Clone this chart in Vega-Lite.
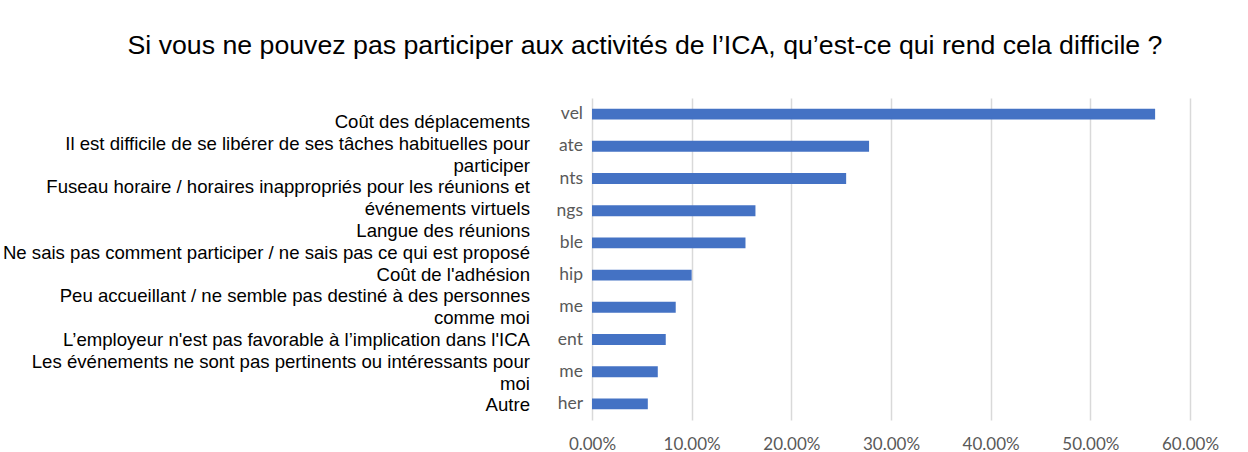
{
  "$schema": "https://vega.github.io/schema/vega-lite/v6.json",
  "width": 598,
  "height": 322,
  "autosize": {"type": "none"},
  "padding": {"left": 592, "top": 98, "right": 58, "bottom": 32},
  "background": "white",
  "title": {
    "text": "Si vous ne pouvez pas participer aux activités de l’ICA, qu’est-ce qui rend cela difficile ?",
    "font": "Liberation Sans",
    "fontSize": 26.7,
    "fontWeight": "normal",
    "color": "#000000",
    "anchor": "middle",
    "frame": "group",
    "dx": -246,
    "baseline": "alphabetic",
    "offset": 17
  },
  "datasets": {
    "raisons": [
      {"raison": "Coût des déplacements", "etiquette": "vel", "pct": 0.565},
      {"raison": "Il est difficile de se libérer de ses tâches habituelles pour participer", "etiquette": "ate", "pct": 0.278},
      {"raison": "Fuseau horaire / horaires inappropriés pour les réunions et événements virtuels", "etiquette": "nts", "pct": 0.255},
      {"raison": "Langue des réunions", "etiquette": "ngs", "pct": 0.164},
      {"raison": "Ne sais pas comment participer / ne sais pas ce qui est proposé", "etiquette": "ble", "pct": 0.154},
      {"raison": "Coût de l'adhésion", "etiquette": "hip", "pct": 0.1},
      {"raison": "Peu accueillant / ne semble pas destiné à des personnes comme moi", "etiquette": "me", "pct": 0.084},
      {"raison": "L’employeur n'est pas favorable à l’implication dans l'ICA", "etiquette": "ent", "pct": 0.074},
      {"raison": "Les événements ne sont pas pertinents ou intéressants pour moi", "etiquette": "me", "pct": 0.066},
      {"raison": "Autre", "etiquette": "her", "pct": 0.056}
    ],
    "lignes": [
      {"n": 1, "texte": "Coût des déplacements"},
      {"n": 2, "texte": "Il est difficile de se libérer de ses tâches habituelles pour"},
      {"n": 3, "texte": "participer"},
      {"n": 4, "texte": "Fuseau horaire / horaires inappropriés pour les réunions et"},
      {"n": 5, "texte": "événements virtuels"},
      {"n": 6, "texte": "Langue des réunions"},
      {"n": 7, "texte": "Ne sais pas comment participer / ne sais pas ce qui est proposé"},
      {"n": 8, "texte": "Coût de l'adhésion"},
      {"n": 9, "texte": "Peu accueillant / ne semble pas destiné à des personnes"},
      {"n": 10, "texte": "comme moi"},
      {"n": 11, "texte": "L’employeur n'est pas favorable à l’implication dans l'ICA"},
      {"n": 12, "texte": "Les événements ne sont pas pertinents ou intéressants pour"},
      {"n": 13, "texte": "moi"},
      {"n": 14, "texte": "Autre"}
    ]
  },
  "layer": [
    {
      "data": {"name": "raisons"},
      "layer": [
        {
          "mark": {"type": "bar", "color": "#4472C4"},
          "encoding": {
            "y": {"field": "raison", "type": "nominal", "sort": null, "scale": {"paddingInner": 0.66, "paddingOuter": 0.33}, "axis": null},
            "x": {
              "field": "pct",
              "type": "quantitative",
              "scale": {"domain": [0, 0.6], "nice": false},
              "axis": {
                "values": [0, 0.1, 0.2, 0.3, 0.4, 0.5, 0.6],
                "format": ".2%",
                "title": null,
                "grid": true,
                "gridColor": "#d9d9d9",
                "gridWidth": 1.5,
                "domain": false,
                "ticks": false,
                "labelPadding": 16,
                "labelFlush": false,
                "labelOverlap": false,
                "labelFont": "Lato",
                "labelFontSize": 17,
                "labelColor": "#595959"
              }
            }
          }
        },
        {
          "mark": {"type": "text", "align": "right", "baseline": "middle", "dx": -9, "font": "Lato", "fontSize": 17.5, "color": "#595959"},
          "encoding": {
            "y": {"field": "raison", "type": "nominal", "sort": null},
            "x": {"datum": 0},
            "text": {"field": "etiquette"}
          }
        }
      ]
    },
    {
      "data": {"name": "lignes"},
      "mark": {"type": "text", "align": "right", "baseline": "middle", "dx": -62, "font": "Liberation Sans", "fontSize": 18.6, "color": "#000000"},
      "encoding": {
        "y": {"field": "n", "type": "ordinal", "scale": {"type": "point", "padding": 0.885, "align": 0.62}, "axis": null},
        "x": {"datum": 0},
        "text": {"field": "texte"}
      }
    }
  ],
  "resolve": {"scale": {"y": "independent"}},
  "config": {"view": {"stroke": null}}
}
